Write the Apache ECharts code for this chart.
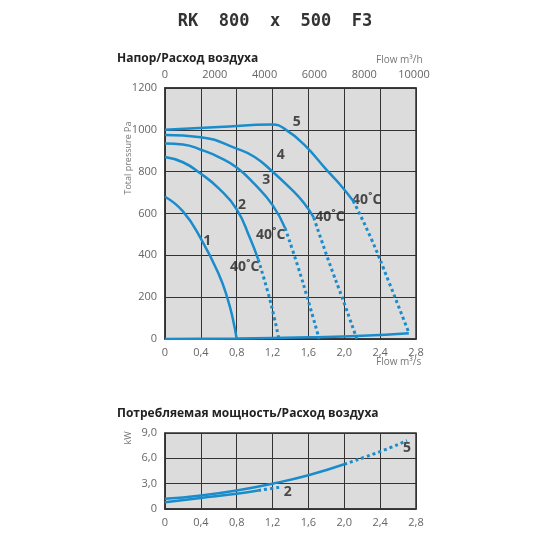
<!DOCTYPE html><html><head><meta charset="utf-8"><script src="https://cdn.jsdelivr.net/npm/echarts@6/dist/echarts.min.js"></script></head><body style="margin:0;background:#fff"><div id="c" style="width:550px;height:550px"></div><script>
const xTicks=[0,0.4,0.8,1.2,1.6,2.0,2.4,2.8];
const c1=[[0,680],[0.2,610],[0.4,480],[0.6,310],[0.7,190],[0.76,90],[0.8,0]];
const c2s=[[0,870],[0.2,845],[0.4,790],[0.6,720],[0.8,620],[0.95,480],[1.04,380]];
const c2d=[[1.04,380],[1.15,220],[1.22,100],[1.27,0]];
const c3s=[[0,935],[0.2,930],[0.4,905],[0.6,870],[0.8,820],[1.0,740],[1.2,640],[1.34,530]];
const c3d=[[1.34,530],[1.48,350],[1.6,180],[1.72,0]];
const c4s=[[0,975],[0.4,965],[0.8,910],[1.0,870],[1.2,800],[1.4,720],[1.55,650],[1.66,580]];
const c4d=[[1.66,580],[1.82,380],[2.0,170],[2.14,0]];
const c5s=[[0,1000],[0.6,1013],[1.2,1025],[1.35,1000],[1.55,930],[1.8,810],[1.95,740],[2.1,660]];
const c5d=[[2.1,660],[2.3,480],[2.5,270],[2.72,30]];
const base=[[0,0],[0.8,2],[1.6,8],[2.2,15],[2.72,28]];
const p5s=[[0,1.2],[0.4,1.6],[0.8,2.2],[1.2,3.0],[1.6,4.0],[2.0,5.3]];
const p5d=[[2.0,5.3],[2.4,6.8],[2.7,8.1]];
const p2s=[[0,0.8],[0.4,1.3],[0.8,1.8],[1.04,2.2]];
const p2d=[[1.04,2.2],[1.3,2.6]];
const curveLabels=[["1",[0.47,470]],["2",[0.86,640]],["3",[1.13,760]],["4",[1.29,880]],["5",[1.47,1037]]];
const tempLabels=[[0.89,344],[1.18,497],[1.84,583],[2.25,665]];
const powerLabels=[["2",[1.37,2.0]],["5",[2.7,7.2]]];
const col='#1a8ccc';
function ln(d,dash,xi,yi){return {type:'line',data:d,xAxisIndex:xi,yAxisIndex:yi,showSymbol:false,smooth:true,lineStyle:{color:col,width:dash?3:2.5,type:dash?[3,3]:'solid'},silent:true};}
const ax={axisLine:{show:true,lineStyle:{color:'#333',width:1.5}},axisTick:{show:false},axisLabel:{color:'#666',fontSize:11,fontFamily:'Open Sans'},splitLine:{show:true,lineStyle:{color:'#333',width:1}}};
const fmt=v=>v===0?'0':v.toFixed(1).replace('.',',');
const lab=Object.assign({},ax.axisLabel,{formatter:fmt});
const gtext=(t,x,y,rot,size)=>({type:'text',left:x,top:y,rotation:rot||0,style:{text:t,fill:'#777',fontSize:size||10,fontFamily:'Open Sans'}});
const opt={animation:false,
title:[{text:'RK  800  x  500  F3',left:'center',top:8,textStyle:{fontFamily:'DejaVu Sans Mono',fontSize:17,fontWeight:'bold',color:'#333'}},
{text:'Напор/Расход воздуха',left:112,top:48,textStyle:{fontSize:12,fontWeight:'bold',color:'#222',fontFamily:'Open Sans'}},
{text:'Потребляемая мощность/Расход воздуха',left:112,top:403,textStyle:{fontSize:12,fontWeight:'bold',color:'#222',fontFamily:'Open Sans'}}],
graphic:[gtext('Flow m³/h',376,55),gtext('Flow m³/s',376,357),
{type:'text',x:124,y:158,rotation:Math.PI/2,style:{text:'Total pressure Pa',fill:'#777',fontSize:9,fontFamily:'Open Sans',align:'center'}},
{type:'text',x:124,y:438,rotation:Math.PI/2,style:{text:'kW',fill:'#777',fontSize:9,fontFamily:'Open Sans',align:'center'}}],
grid:[{left:165,right:134,top:88,height:251,show:true,backgroundColor:'#dcdcdc',borderColor:'#333',borderWidth:1.5},
{left:165,right:134,top:433,height:76,show:true,backgroundColor:'#dcdcdc',borderColor:'#333',borderWidth:1.5}],
xAxis:[Object.assign({},ax,{type:'value',gridIndex:0,min:0,max:2.8,interval:0.4,axisLabel:lab}),
Object.assign({},ax,{type:'value',gridIndex:0,position:'top',min:0,max:10080,interval:2000,splitLine:{show:false},axisLabel:Object.assign({},ax.axisLabel,{showMaxLabel:false,formatter:v=>String(v)})}),
Object.assign({},ax,{type:'value',gridIndex:1,min:0,max:2.8,interval:0.4,axisLabel:lab})],
yAxis:[Object.assign({},ax,{type:'value',gridIndex:0,min:0,max:1200,interval:200,axisLabel:Object.assign({},ax.axisLabel,{formatter:v=>String(v)})}),
Object.assign({},ax,{type:'value',gridIndex:1,min:0,max:9,interval:3,axisLabel:lab})],
series:[ln(c1,0,0,0),ln(c2s,0,0,0),ln(c2d,1,0,0),ln(c3s,0,0,0),ln(c3d,1,0,0),ln(c4s,0,0,0),ln(c4d,1,0,0),ln(c5s,0,0,0),ln(c5d,1,0,0),ln(base,0,0,0),
ln(p5s,0,2,1),ln(p5d,1,2,1),ln(p2s,0,2,1),ln(p2d,1,2,1),
{type:'scatter',xAxisIndex:0,yAxisIndex:0,symbolSize:0,silent:true,data:curveLabels.map(l=>({value:l[1],label:{show:true,formatter:l[0],position:'inside'}})),label:{color:'#222',fontSize:14,fontWeight:'bold',fontFamily:'Open Sans'}},
{type:'scatter',xAxisIndex:0,yAxisIndex:0,symbolSize:0,silent:true,data:tempLabels.map(p=>({value:p})),label:{show:true,position:'inside',formatter:'40˚C',color:'#222',fontSize:14,fontWeight:'bold',fontFamily:'Open Sans'}},
{type:'scatter',xAxisIndex:2,yAxisIndex:1,symbolSize:0,silent:true,data:powerLabels.map(l=>({value:l[1],label:{show:true,formatter:l[0],position:'inside'}})),label:{color:'#222',fontSize:14,fontWeight:'bold',fontFamily:'Open Sans'}}]};
echarts.init(document.getElementById('c')).setOption(opt);
</script></body></html>
